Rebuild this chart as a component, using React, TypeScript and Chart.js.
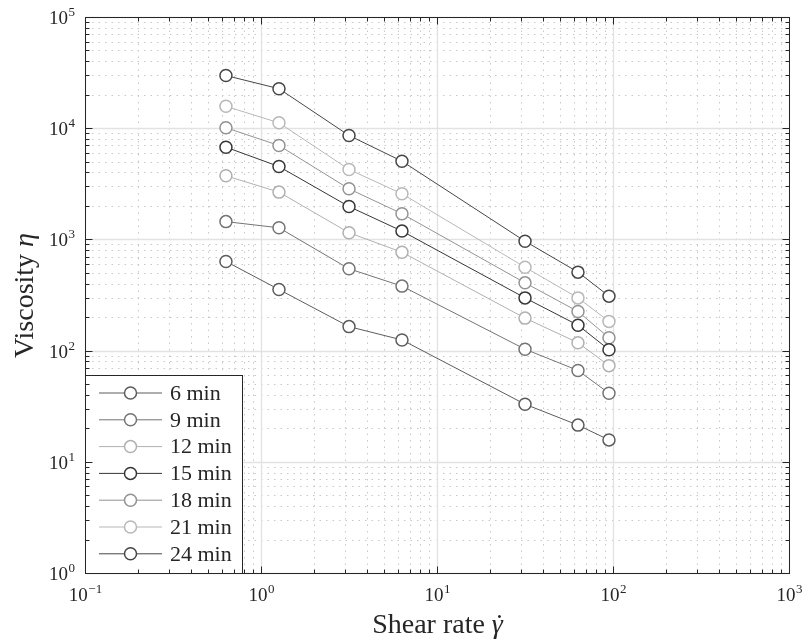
import React, { useEffect, useRef } from "react";
import { Chart, registerables } from "chart.js";

Chart.register(...registerables);

const FONT = '"Liberation Serif", "Times New Roman", serif';

// Shear rate (1/s)
const shearRate = [0.628, 1.257, 3.142, 6.283, 31.42, 62.83, 94.25];

const seriesLabels = ["6 min", "9 min", "12 min", "15 min", "18 min", "21 min", "24 min"];

// Viscosity values per curing time
const viscosity6 = [640, 358, 166, 126, 33.3, 21.6, 15.9];
const viscosity9 = [1460, 1285, 550, 384, 104, 67, 41.8];
const viscosity12 = [3770, 2690, 1160, 775, 198, 119, 74];
const viscosity15 = [6820, 4570, 1995, 1200, 301, 171, 103];
const viscosity18 = [10200, 7060, 2880, 1720, 411, 227, 132];
const viscosity21 = [15900, 11300, 4300, 2600, 568, 301, 185];
const viscosity24 = [30060, 22900, 8690, 5100, 973, 513, 312];

const seriesValues = [viscosity6, viscosity9, viscosity12, viscosity15, viscosity18, viscosity21, viscosity24];
const seriesColors = ["#5c5c5c", "#747474", "#b0b0b0", "#363636", "#939393", "#b8b8b8", "#464646"];

const xTickExponents = [-1, 0, 1, 2, 3];
const yTickExponents = [0, 1, 2, 3, 4, 5];
const xAxisTitle = "Shear rate ";
const xAxisSymbol = "\u03b3";
const yAxisTitle = "Viscosity ";
const yAxisSymbol = "\u03b7";

function drawPow(ctx: CanvasRenderingContext2D, exp: number, x: number, y: number, align: "center" | "right") {
  const base = "10";
  const e = exp < 0 ? "\u2212" + Math.abs(exp) : String(exp);
  ctx.font = `19px ${FONT}`;
  const wb = ctx.measureText(base).width;
  ctx.font = `13px ${FONT}`;
  const we = ctx.measureText(e).width;
  const gap = 0.5;
  const total = wb + gap + we;
  const x0 = align === "center" ? x - total / 2 : x - total;
  ctx.textAlign = "left";
  ctx.textBaseline = "alphabetic";
  ctx.font = `19px ${FONT}`;
  ctx.fillText(base, x0, y);
  ctx.font = `13px ${FONT}`;
  ctx.fillText(e, x0 + wb + gap, y - 8);
}

function minorValues(exps: number[]) {
  const out: number[] = [];
  for (let i = 0; i < exps.length - 1; i++) {
    for (let m = 2; m <= 9; m++) out.push(m * Math.pow(10, exps[i]));
  }
  return out;
}

const snap = (p: number) => Math.round(p - 0.5) + 0.5;

const framePlugin = {
  id: "matlabFrame",
  beforeDatasetsDraw(chart: any) {
    const { ctx, chartArea: a, scales } = chart;
    const xs = scales.x;
    const ys = scales.y;
    ctx.save();
    // minor dotted grid
    ctx.strokeStyle = "#c8c8c8";
    ctx.lineWidth = 1;
    ctx.setLineDash([1.5, 5]);
    for (const v of minorValues(xTickExponents)) {
      const px = snap(xs.getPixelForValue(v));
      ctx.beginPath();
      ctx.moveTo(px, a.top);
      ctx.lineTo(px, a.bottom);
      ctx.stroke();
    }
    for (const v of minorValues(yTickExponents)) {
      const py = snap(ys.getPixelForValue(v));
      ctx.beginPath();
      ctx.moveTo(a.left, py);
      ctx.lineTo(a.right, py);
      ctx.stroke();
    }
    // major solid grid
    ctx.setLineDash([]);
    ctx.strokeStyle = "#e2e2e2";
    ctx.lineWidth = 1.3;
    for (const e of xTickExponents) {
      const px = snap(xs.getPixelForValue(Math.pow(10, e)));
      ctx.beginPath();
      ctx.moveTo(px, a.top);
      ctx.lineTo(px, a.bottom);
      ctx.stroke();
    }
    for (const e of yTickExponents) {
      const py = snap(ys.getPixelForValue(Math.pow(10, e)));
      ctx.beginPath();
      ctx.moveTo(a.left, py);
      ctx.lineTo(a.right, py);
      ctx.stroke();
    }
    ctx.restore();
  },
  afterDatasetsDraw(chart: any) {
    const { ctx, chartArea: a, scales } = chart;
    const xs = scales.x;
    const ys = scales.y;
    const ink = "#262626";
    ctx.save();

    // legend box
    const lgLeft = a.left;
    const lgTop = 375.5;
    const lgRight = 242.5;
    const lgBottom = a.bottom;
    ctx.fillStyle = "#ffffff";
    ctx.fillRect(lgLeft, lgTop, lgRight - lgLeft, lgBottom - lgTop);
    ctx.strokeStyle = ink;
    ctx.lineWidth = 1;
    ctx.strokeRect(lgLeft, lgTop, lgRight - lgLeft, lgBottom - lgTop);
    chart.data.datasets.forEach((ds: any, i: number) => {
      const yy = 393 + i * 26.8;
      ctx.strokeStyle = ds.borderColor;
      ctx.lineWidth = 1;
      ctx.beginPath();
      ctx.moveTo(99, yy);
      ctx.lineTo(162, yy);
      ctx.stroke();
      ctx.beginPath();
      ctx.arc(130.5, yy, 6, 0, Math.PI * 2);
      ctx.fillStyle = "#ffffff";
      ctx.fill();
      ctx.lineWidth = 1.5;
      ctx.stroke();
      ctx.fillStyle = ink;
      ctx.font = `22px ${FONT}`;
      ctx.textAlign = "left";
      ctx.textBaseline = "middle";
      ctx.fillText(ds.label, 170, yy + 1);
    });

    // frame
    ctx.strokeStyle = ink;
    ctx.lineWidth = 1;
    ctx.strokeRect(a.left, a.top, a.right - a.left, a.bottom - a.top);

    // ticks
    const drawXTick = (v: number, len: number) => {
      const px = snap(xs.getPixelForValue(v));
      ctx.beginPath();
      ctx.moveTo(px, a.bottom);
      ctx.lineTo(px, a.bottom - len);
      ctx.moveTo(px, a.top);
      ctx.lineTo(px, a.top + len);
      ctx.stroke();
    };
    const drawYTick = (v: number, len: number) => {
      const py = snap(ys.getPixelForValue(v));
      ctx.beginPath();
      ctx.moveTo(a.left, py);
      ctx.lineTo(a.left + len, py);
      ctx.moveTo(a.right, py);
      ctx.lineTo(a.right - len, py);
      ctx.stroke();
    };
    for (const v of minorValues(xTickExponents)) drawXTick(v, 4);
    for (const e of xTickExponents) drawXTick(Math.pow(10, e), 7);
    for (const v of minorValues(yTickExponents)) drawYTick(v, 4);
    for (const e of yTickExponents) drawYTick(Math.pow(10, e), 7);

    // tick labels
    ctx.fillStyle = ink;
    for (const e of xTickExponents) {
      drawPow(ctx, e, xs.getPixelForValue(Math.pow(10, e)), a.bottom + 27, "center");
    }
    for (const e of yTickExponents) {
      drawPow(ctx, e, a.left - 10.5, ys.getPixelForValue(Math.pow(10, e)) + 6.5, "right");
    }

    // x axis title
    const titleSize = 28;
    ctx.font = `${titleSize}px ${FONT}`;
    const w1 = ctx.measureText(xAxisTitle).width;
    ctx.font = `italic ${titleSize}px ${FONT}`;
    const w2 = ctx.measureText(xAxisSymbol).width;
    const cx = (a.left + a.right) / 2;
    const bx = cx - (w1 + w2) / 2;
    const by = a.bottom + 59;
    ctx.textAlign = "left";
    ctx.textBaseline = "alphabetic";
    ctx.font = `${titleSize}px ${FONT}`;
    ctx.fillText(xAxisTitle, bx, by);
    ctx.font = `italic ${titleSize}px ${FONT}`;
    ctx.fillText(xAxisSymbol, bx + w1, by);
    ctx.font = `${titleSize}px ${FONT}`;
    ctx.textAlign = "center";
    ctx.fillText("\u02d9", bx + w1 + w2 / 2 + 2, by);

    // y axis title
    ctx.save();
    ctx.translate(33, (a.top + a.bottom) / 2);
    ctx.rotate(-Math.PI / 2);
    ctx.font = `${titleSize}px ${FONT}`;
    const v1 = ctx.measureText(yAxisTitle).width;
    ctx.font = `italic ${titleSize}px ${FONT}`;
    const v2 = ctx.measureText(yAxisSymbol).width;
    const sx = -(v1 + v2) / 2;
    ctx.textAlign = "left";
    ctx.textBaseline = "alphabetic";
    ctx.font = `${titleSize}px ${FONT}`;
    ctx.fillText(yAxisTitle, sx, 0);
    ctx.font = `italic ${titleSize}px ${FONT}`;
    ctx.fillText(yAxisSymbol, sx + v1, 0);
    ctx.restore();

    ctx.restore();
  },
};

export default function App() {
  const ref = useRef<HTMLCanvasElement>(null);
  useEffect(() => {
    if (!ref.current) return;
    const datasets = seriesLabels.map((label, i) => ({
      label,
      data: shearRate.map((x, j) => ({ x, y: seriesValues[i][j] })),
      borderColor: seriesColors[i],
      backgroundColor: seriesColors[i],
      borderWidth: 1,
      pointRadius: 6,
      pointBorderWidth: 1.5,
      pointBackgroundColor: "#ffffff",
      pointBorderColor: seriesColors[i],
      tension: 0,
      fill: false,
    }));
    const chart = new Chart(ref.current, {
      type: "line",
      data: { datasets },
      options: {
        animation: false,
        responsive: false,
        devicePixelRatio: 1,
        layout: { padding: { left: 85.5, top: 17.5, right: 15.5, bottom: 70.5 } },
        scales: {
          x: { type: "logarithmic", min: 0.1, max: 1000, display: false },
          y: { type: "logarithmic", min: 1, max: 100000, display: false },
        },
        plugins: { legend: { display: false }, tooltip: { enabled: false } },
      },
      plugins: [framePlugin],
    });
    return () => chart.destroy();
  }, []);
  return (
    <div style={{ position: "absolute", left: 0, top: 0, width: 805, height: 644, background: "#ffffff" }}>
      <canvas ref={ref} width={805} height={644} style={{ display: "block", width: 805, height: 644 }} />
    </div>
  );
}
